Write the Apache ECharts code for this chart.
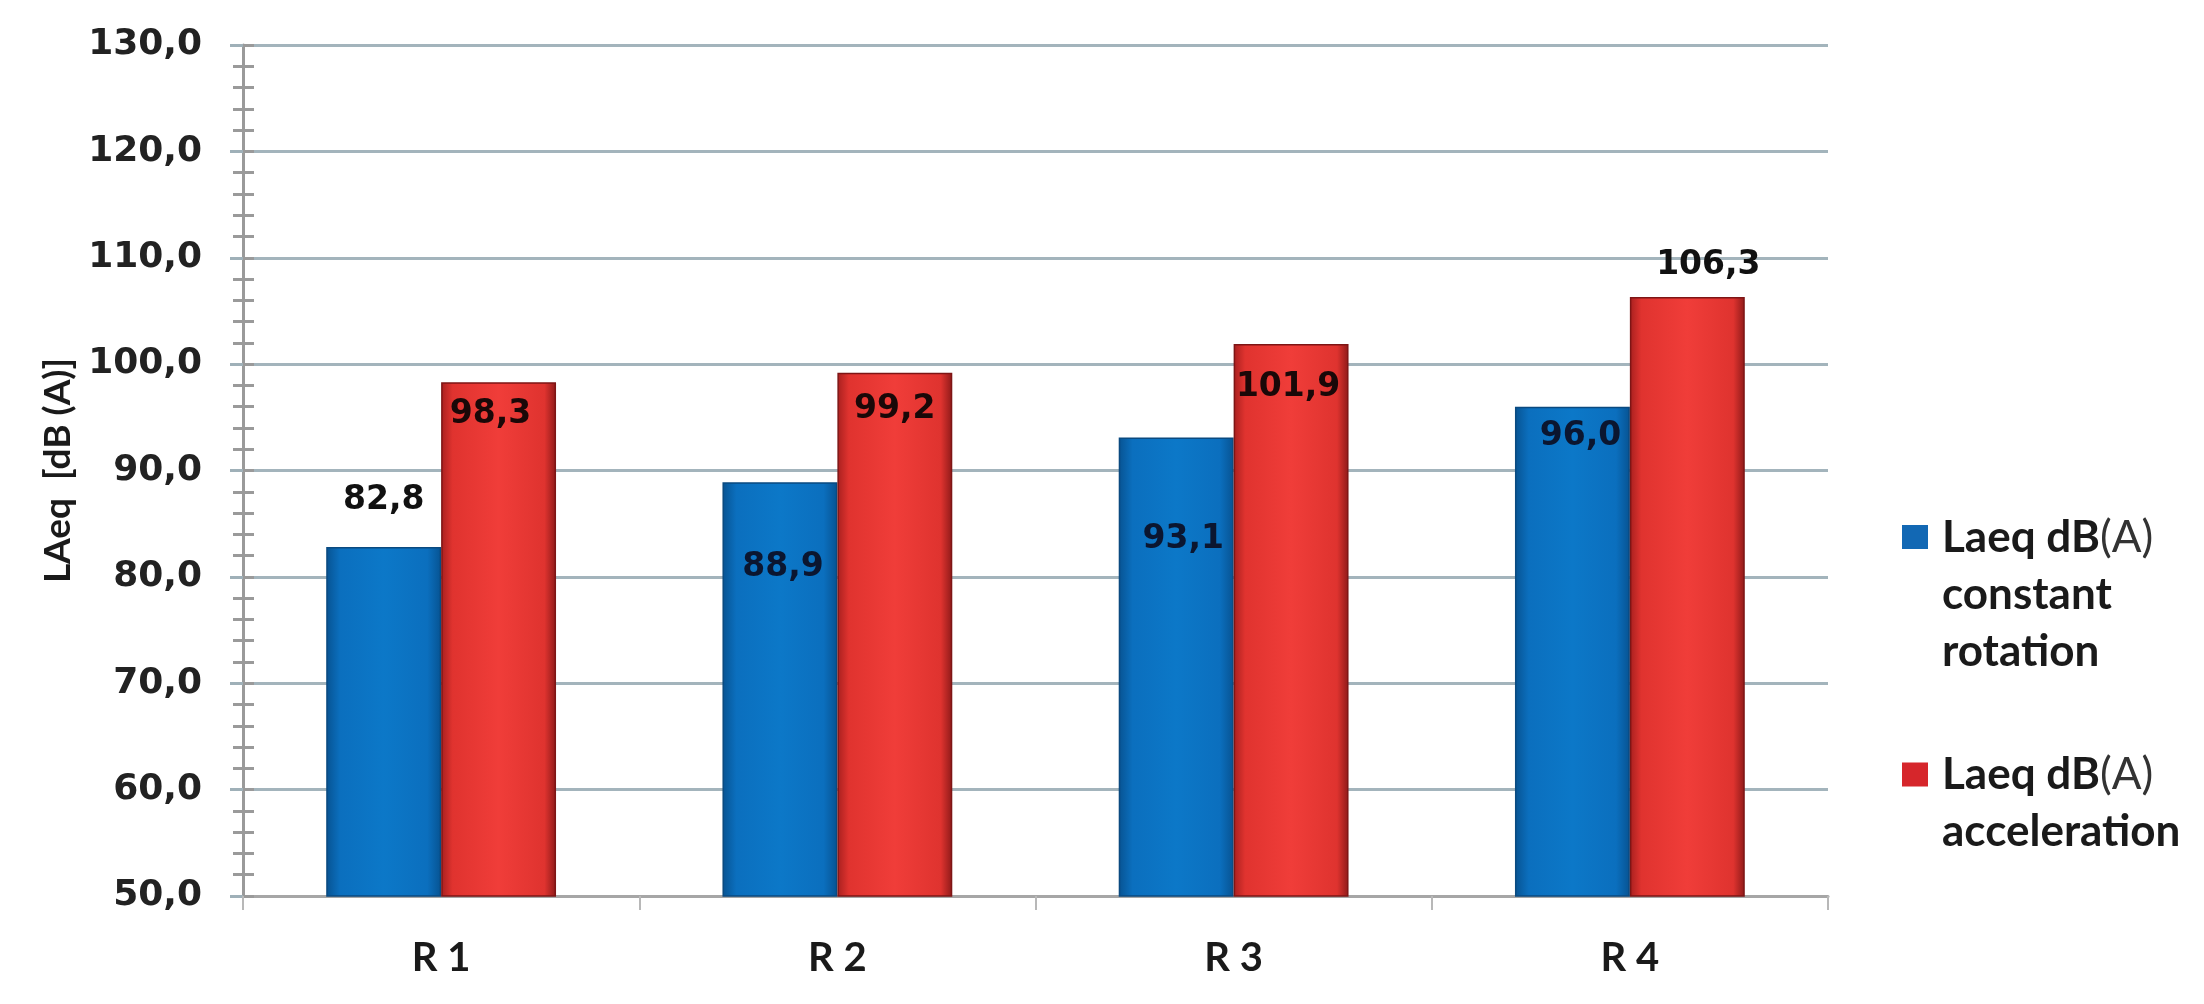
<!DOCTYPE html>
<html>
<head>
<meta charset="utf-8">
<script src="https://cdn.jsdelivr.net/npm/echarts@6/dist/echarts.min.js"></script>
<style>
html,body{margin:0;padding:0;background:#fff;}
#chart{width:2204px;height:1004px;}
</style>
</head>
<body>
<div id="chart"></div>
<script>
// ---- data ----
const categories = ['R 1', 'R 2', 'R 3', 'R 4'];
const constantRotation = [82.8, 88.9, 93.1, 96.0];
const acceleration = [98.3, 99.2, 101.9, 106.3];
const seriesNames = ['Laeq dB(A) constant rotation', 'Laeq dB(A) acceleration'];
const yTicks = [50, 60, 70, 80, 90, 100, 110, 120, 130];

// ---- label placement (pixels, relative to bar top: [dx, dy of label centre]) ----
const blueLabelPlace = [[0, -47], [3, 85], [7, 102], [8, 30]];
const redLabelPlace = [[-8, 32], [0, 37], [-3, 44], [21, -32]];

const fmt = v => v.toFixed(1).replace('.', ',');

function makeData(values, places, color) {
  return values.map((v, i) => ({
    value: v,
    label: {
      position: ['50%', places[i][1]],
      offset: [places[i][0], 0],
      align: 'center',
      verticalAlign: 'middle',
      color: color
    }
  }));
}

const blueGrad = {
  type: 'linear', x: 0, y: 0, x2: 1, y2: 0,
  colorStops: [
    {offset: 0, color: '#075392'}, {offset: 0.12, color: '#0b6fbe'},
    {offset: 0.5, color: '#0c78c8'}, {offset: 0.88, color: '#0b6fbe'},
    {offset: 1, color: '#075392'}
  ]
};
const redGrad = {
  type: 'linear', x: 0, y: 0, x2: 1, y2: 0,
  colorStops: [
    {offset: 0, color: '#a8201f'}, {offset: 0.1, color: '#e0332f'},
    {offset: 0.5, color: '#f03d39'}, {offset: 0.9, color: '#df332f'},
    {offset: 1, color: '#8e1a19'}
  ]
};

const labelFont = {
  show: true,
  formatter: p => fmt(p.value),
  fontFamily: 'DejaVu Sans',
  fontWeight: 'bold',
  fontSize: 33
};

const legendText = {
  [seriesNames[0]]: '{b|Laeq dB}{n|(A)}\n{b|constant}\n{b|rotation}',
  [seriesNames[1]]: '{b|Laeq dB}{n|(A)}\n{b|acceleration}'
};

const option = {
  backgroundColor: '#ffffff',
  animation: false,
  grid: {left: 243, right: 376, top: 45, bottom: 108, containLabel: false},
  legend: {
    orient: 'vertical',
    left: 1897,
    top: 511,
    itemWidth: 35,
    itemHeight: 140,
    itemGap: 79,
    symbolKeepAspect: true,
    data: [
      {name: seriesNames[0], icon: 'path://M0,0h26v24h-26zM0,140h35',
       itemStyle: {color: '#1268b4', borderWidth: 0}},
      {name: seriesNames[1], icon: 'path://M0,0h26v24h-26zM0,82h35',
       itemStyle: {color: '#d6262b', borderWidth: 0}}
    ],
    formatter: name => legendText[name],
    textStyle: {
      rich: {
        b: {fontFamily: 'Lato', fontWeight: 'bold', fontSize: 44, lineHeight: 57, color: '#1a1a1a'},
        n: {fontFamily: 'Lato', fontWeight: 'normal', fontSize: 44, lineHeight: 57, color: '#333'}
      }
    }
  },
  xAxis: {
    type: 'category',
    data: categories,
    axisLine: {show: true, lineStyle: {color: '#a6a6a6', width: 3}},
    axisTick: {show: true, length: 14, lineStyle: {color: '#b8b8b8', width: 2}},
    axisLabel: {
      margin: 42,
      fontFamily: 'Lato', fontWeight: 'bold', fontSize: 40, color: '#1a1a1a'
    },
    splitLine: {show: false}
  },
  yAxis: [
    {
      type: 'value',
      min: yTicks[0],
      max: yTicks[yTicks.length - 1],
      interval: 10,
      name: 'LAeq  [dB (A)]',
      nameLocation: 'middle',
      nameGap: 166,
      nameRotate: 90,
      nameTextStyle: {fontFamily: 'Lato', fontWeight: 'bold', fontSize: 37, color: '#1a1a1a'},
      axisLine: {show: true, lineStyle: {color: '#9a9a9a', width: 3}},
      axisTick: {show: true, length: 13, lineStyle: {color: '#9fb0b8', width: 3}},
      minorTick: {show: true, splitNumber: 5, length: 10, lineStyle: {color: '#9a9a9a', width: 3}},
      axisLabel: {
        margin: 41,
        formatter: v => fmt(v),
        fontFamily: 'DejaVu Sans', fontWeight: 'bold', fontSize: 36, color: '#222'
      },
      splitLine: {show: true, lineStyle: {color: '#a3b4bc', width: 3}}
    },
    {
      type: 'value',
      position: 'left',
      min: yTicks[0],
      max: yTicks[yTicks.length - 1],
      interval: 10,
      axisLine: {show: false},
      axisTick: {show: true, inside: true, length: 11, lineStyle: {color: '#9a9a9a', width: 3}},
      minorTick: {show: true, splitNumber: 5, length: 11, lineStyle: {color: '#9a9a9a', width: 3}},
      axisLabel: {show: false},
      splitLine: {show: false}
    }
  ],
  series: [
    {
      name: seriesNames[0],
      type: 'bar',
      barGap: '0%',
      barCategoryGap: '42%',
      itemStyle: {color: blueGrad, borderColor: '#0a4a80', borderWidth: 1.5},
      label: Object.assign({}, labelFont),
      data: makeData(constantRotation, blueLabelPlace, '#0b1630'),
      z: 3
    },
    {
      name: seriesNames[1],
      type: 'bar',
      barGap: '0%',
      barCategoryGap: '42%',
      itemStyle: {color: redGrad, borderColor: '#7e1515', borderWidth: 1.5},
      label: Object.assign({}, labelFont),
      data: makeData(acceleration, redLabelPlace, '#1a0808'),
      z: 3
    }
  ]
};

// label colours for labels outside bars
option.series[0].data[0].label.color = '#111';
option.series[1].data[3].label.color = '#111';

const chart = echarts.init(document.getElementById('chart'), null, {renderer: 'canvas'});
chart.setOption(option);
</script>
</body>
</html>
